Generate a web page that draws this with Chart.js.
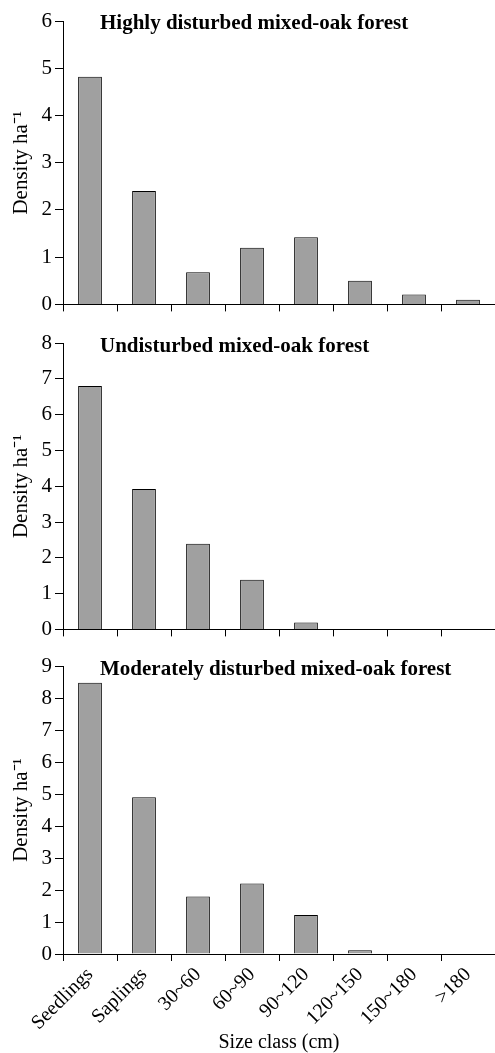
<!DOCTYPE html>
<html>
<head>
<meta charset="utf-8">
<script src="https://cdn.jsdelivr.net/npm/chart.js@4"></script>
<style>
  body { margin: 0; background: #fff; }
  .panel { position: absolute; left: 0; width: 495px; }
</style>
</head>
<body>
<div class="panel" style="top:0px"><canvas id="c1" width="495" height="320"></canvas></div>
<div class="panel" style="top:320px"><canvas id="c2" width="495" height="325"></canvas></div>
<div class="panel" style="top:645px"><canvas id="c3" width="495" height="408"></canvas></div>
<script>
const sizeClasses = ['Seedlings', 'Saplings', '30~60', '60~90', '90~120', '120~150', '150~180', '>180'];
const highlyDisturbed = [4.82, 2.4, 0.68, 1.2, 1.42, 0.5, 0.21, 0.1];
const undisturbed = [6.8, 3.92, 2.39, 1.39, 0.19, 0, 0, 0];
const moderatelyDisturbed = [8.48, 4.9, 1.8, 2.2, 1.22, 0.12, 0, 0];
const panelTitles = ['Highly disturbed mixed-oak forest', 'Undisturbed mixed-oak forest', 'Moderately disturbed mixed-oak forest'];
const yMaxes = [6, 8, 9];

const serif = '"Liberation Serif", "Times New Roman", serif';

// titre du panneau, dessiné dans la zone du graphique
const panelTitle = {
    id: 'panelTitle',
    afterDraw(chart, args, opts) {
        const { ctx, chartArea } = chart;
        ctx.save();
        ctx.font = 'bold 21px ' + serif;
        ctx.fillStyle = '#000';
        ctx.textBaseline = 'alphabetic';
        ctx.fillText(opts.text, chartArea.left + 37, chartArea.top + opts.dy);
        ctx.restore();
    }
};

function makeChart(id, values, yMax, title, showLabels, padTop, xHeight, dy) {
    return new Chart(document.getElementById(id), {
        type: 'bar',
        data: {
            labels: sizeClasses,
            datasets: [{
                data: values,
                backgroundColor: '#a0a0a0',
                borderColor: '#000',
                borderWidth: 1,
                barPercentage: 0.44,
                categoryPercentage: 1
            }]
        },
        options: {
            responsive: false,
            animation: false,
            layout: { padding: { top: padTop, left: 0, right: 0, bottom: 0 } },
            plugins: {
                legend: { display: false },
                tooltip: { enabled: false },
                panelTitle: { text: title, dy: dy }
            },
            scales: {
                x: {
                    offset: true,
                    grid: { offset: true, drawOnChartArea: false, tickLength: 7, color: '#000' },
                    border: { display: true, color: '#000', width: 1 },
                    ticks: {
                        display: showLabels,
                        maxRotation: 45,
                        minRotation: 45,
                        padding: 2,
                        color: '#000',
                        font: { family: serif, size: 20 }
                    },
                    title: {
                        display: showLabels,
                        text: 'Size class (cm)',
                        color: '#000',
                        padding: 0,
                        font: { family: serif, size: 20, lineHeight: 1 }
                    },
                    afterFit: s => { s.height = xHeight; }
                },
                y: {
                    min: 0,
                    max: yMax,
                    ticks: {
                        stepSize: 1,
                        padding: 3,
                        color: '#000',
                        font: { family: serif, size: 21 }
                    },
                    grid: { drawOnChartArea: false, tickLength: 8, color: '#000' },
                    border: { display: true, color: '#000', width: 1 },
                    title: {
                        display: true,
                        text: 'Density ha\u207B\u00B9',
                        color: '#000',
                        padding: { top: 11, bottom: 0 },
                        font: { family: serif, size: 21, lineHeight: 1 }
                    },
                    afterFit: s => { s.width = 63; }
                }
            }
        },
        plugins: [panelTitle]
    });
}

makeChart('c1', highlyDisturbed, yMaxes[0], panelTitles[0], false, 21, 13, 8);
makeChart('c2', undisturbed, yMaxes[1], panelTitles[1], false, 23, 15, 9);
makeChart('c3', moderatelyDisturbed, yMaxes[2], panelTitles[2], true, 21, 99, 9);
</script>
</body>
</html>
